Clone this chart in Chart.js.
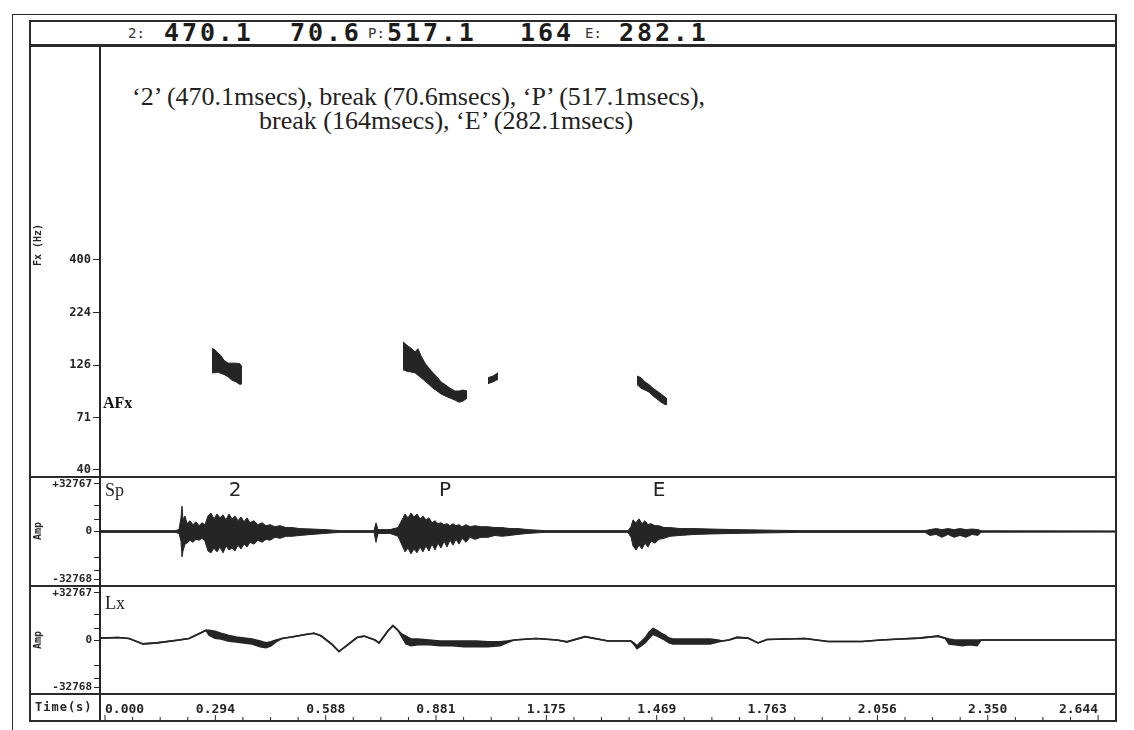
<!DOCTYPE html>
<html>
<head>
<meta charset="utf-8">
<script src="https://cdn.jsdelivr.net/npm/chart.js@4.4.0/dist/chart.umd.min.js"></script>
<style>
  body { margin: 0; background: #fff; }
  #page { position: relative; width: 1134px; height: 730px; overflow: hidden; background: #fff; }
  canvas { position: absolute; }
  .ln { position: absolute; background: #2b2b2b; z-index: 5; }
  .hdr { position: absolute; top: 20px; font-family: 'DejaVu Sans Mono', monospace; font-weight: bold;
         font-size: 25px; letter-spacing: 2.9px; line-height: 26px; color: #1c1c1c; white-space: nowrap; }
  .hdr.small { font-size: 14px; font-weight: normal; letter-spacing: 0; top: 25px; line-height: 16px; color: #333; }
  .note { position: absolute; font-family: 'Liberation Serif', serif; font-size: 26px; line-height: 28px;
          color: #222; white-space: nowrap; }
</style>
</head>
<body>
<div id="page">
  <!-- frame -->
  <div class="ln" style="left:12px;top:14px;width:1px;height:716px"></div>
  <div class="ln" style="left:12px;top:14px;width:1105px;height:1px"></div>
  <div class="ln" style="left:29px;top:20px;width:1.5px;height:701px"></div>
  <div class="ln" style="left:29px;top:20px;width:1088px;height:1.5px"></div>
  <div class="ln" style="left:1115px;top:14px;width:1.5px;height:707px"></div>
  <div class="ln" style="left:29px;top:44px;width:1088px;height:2.5px"></div>
  <div class="ln" style="left:29px;top:476px;width:1088px;height:2px"></div>
  <div class="ln" style="left:29px;top:585px;width:1088px;height:2px"></div>
  <div class="ln" style="left:29px;top:693px;width:1088px;height:2px"></div>
  <div class="ln" style="left:29px;top:720px;width:1088px;height:1.5px"></div>
  <div class="ln" style="left:99px;top:693px;width:2px;height:28px"></div>

  <!-- header durations -->
  <div class="hdr small" style="left:128px">2:</div>
  <div class="hdr" style="left:164px">470.1</div>
  <div class="hdr" style="left:290px">70.6</div>
  <div class="hdr small" style="left:368px">P:</div>
  <div class="hdr" style="left:387px">517.1</div>
  <div class="hdr" style="left:520px">164</div>
  <div class="hdr small" style="left:585px">E:</div>
  <div class="hdr" style="left:619px">282.1</div>

  <div class="note" style="left:132px;top:83px">‘2’ (470.1msecs), break (70.6msecs), ‘P’ (517.1msecs),</div>
  <div class="note" style="left:259px;top:107px">break (164msecs), ‘E’ (282.1msecs)</div>

  <canvas id="fx" width="1085" height="431" style="left:30px;top:46px"></canvas>
  <canvas id="sp" width="1085" height="109" style="left:30px;top:477px"></canvas>
  <canvas id="lx" width="1085" height="135" style="left:30px;top:586px"></canvas>
</div>
<script>
// time axis (seconds)
const timeTicks = [0, 0.294, 0.588, 0.881, 1.175, 1.469, 1.763, 2.056, 2.350, 2.644];
const timeLabels = ['0.000', '0.294', '0.588', '0.881', '1.175', '1.469', '1.763', '2.056', '2.350', '2.644'];
const fxTicks = [40, 71, 126, 224, 400];
const ampTicks = [-32768, -27000, -18000, 0, 8000, 18000, 32767];

// Fx contour pieces: [time s, upper Hz, lower Hz]
const fxSeg2 = [
  [0.2849, 152, 116], [0.2929, 149, 116], [0.3009, 144, 117], [0.3088, 140, 115], [0.3168, 133, 114],
  [0.3275, 129, 111], [0.3381, 129, 107], [0.3488, 129, 105], [0.3594, 128, 102], [0.3647, 124, 103]
];
const fxSegP = [
  [0.7934, 163, 120], [0.8040, 157, 118], [0.8147, 152, 117], [0.8253, 146, 116], [0.8333, 151, 113],
  [0.8413, 140, 110], [0.8520, 129, 106], [0.8626, 122, 102], [0.8733, 116, 98], [0.8839, 111, 95],
  [0.8946, 105, 92], [0.9052, 102, 90], [0.9185, 98, 88], [0.9318, 95, 86], [0.9425, 95, 84],
  [0.9531, 96, 85], [0.9638, 95, 88]
];
const fxSegBlip = [[1.0197, 110, 103], [1.0330, 112, 105], [1.0463, 116, 108]];
const fxSegE = [
  [1.4164, 112, 102], [1.4271, 110, 98], [1.4377, 105, 96], [1.4483, 102, 94], [1.4590, 98, 90],
  [1.4696, 95, 87], [1.4803, 92, 84], [1.4909, 89, 82], [1.4963, 87, 82]
];

// speech waveform envelope
const spTime = [
  -0.0133, 0.1864, 0.1970, 0.2023, 0.2050, 0.2077, 0.2130, 0.2183, 0.2263, 0.2343,
  0.2423, 0.2503, 0.2583, 0.2662, 0.2742, 0.2822, 0.2902, 0.2982, 0.3062, 0.3142,
  0.3222, 0.3301, 0.3381, 0.3461, 0.3541, 0.3621, 0.3701, 0.3781, 0.3861, 0.3967,
  0.4073, 0.4180, 0.4286, 0.4393, 0.4526, 0.4659, 0.4819, 0.4979, 0.5192, 0.5511,
  0.5857, 0.6257,
  0.7162, 0.7215, 0.7268, 0.7588, 0.7801, 0.7907, 0.7987, 0.8067, 0.8147, 0.8227,
  0.8307, 0.8387, 0.8466, 0.8546, 0.8626, 0.8706, 0.8786, 0.8866, 0.8946, 0.9026,
  0.9105, 0.9185, 0.9265, 0.9345, 0.9425, 0.9505, 0.9611, 0.9718, 0.9851, 1.0011,
  1.0197, 1.0383, 1.0570, 1.0783, 1.0996, 1.1262, 1.1715,
  1.3924, 1.4004, 1.4058, 1.4137, 1.4217, 1.4297, 1.4377, 1.4457, 1.4537, 1.4643,
  1.4750, 1.4883, 1.5043, 1.5309, 1.5708, 1.6108, 1.6773, 1.8504,
  2.1832, 2.1965, 2.2125, 2.2284, 2.2444, 2.2604, 2.2764, 2.2923, 2.3083, 2.3243,
  2.3323, 2.6890
];
const spUpper = [
  600, 600, 1300, 9400, 17400, 8000, 10700, 5400, 7400, 4700,
  6700, 4000, 6000, 4700, 10700, 12700, 8700, 12000, 9400, 11400,
  8000, 12000, 8700, 10700, 7400, 10000, 6700, 9400, 6000, 7400,
  4700, 6000, 4000, 4700, 3300, 4000, 2700, 2700, 2000, 1700,
  1300, 600,
  600, 6000, 1300, 1300, 2700, 8000, 12000, 9400, 12700, 10000,
  12000, 8700, 10700, 8000, 9400, 6000, 7400, 5400, 6000, 4700,
  5400, 4000, 5400, 4000, 4700, 3300, 4700, 3300, 4000, 3300,
  3300, 2700, 2700, 2000, 2000, 1300, 600,
  600, 3300, 8000, 6000, 8700, 5400, 7400, 4700, 5400, 4000,
  4000, 2700, 2700, 2000, 2000, 1700, 1300, 600,
  600, 1300, 2000, 1300, 2000, 1300, 2000, 1300, 1700, 1300,
  500, 400
];
const spLower = [
  -600, -600, -1300, -6700, -17400, -13400, -8700, -8000, -6000, -7400,
  -5400, -6000, -4700, -6700, -13400, -14700, -11400, -14000, -10700, -14700,
  -10000, -12700, -11400, -13400, -9400, -12000, -8700, -10700, -7400, -8700,
  -6000, -7400, -5400, -6000, -4000, -4700, -3300, -3300, -2700, -2000,
  -1300, -600,
  -600, -7400, -1300, -1300, -3300, -9400, -14000, -11400, -15400, -12000,
  -14700, -10700, -14000, -10000, -13400, -8700, -12700, -8000, -11400, -6700,
  -10700, -6000, -9400, -5400, -8700, -4700, -7400, -4000, -5400, -4000,
  -4000, -2700, -3300, -2700, -2000, -1300, -600,
  -600, -4000, -10000, -12700, -9400, -12000, -8000, -10700, -6700, -8000,
  -5400, -4700, -3300, -2700, -2000, -1700, -1300, -600,
  -600, -2700, -2000, -4000, -2000, -4000, -2700, -4000, -2000, -2700,
  -500, -400
];

// laryngograph trace (upper / lower edge of the drawn line)
const lxTime = [
  -0.0133, 0.0346, 0.0639, 0.1012, 0.1384, 0.1970, 0.2236, 0.2529, 0.2689, 0.2769,
  0.2929, 0.3088, 0.3275, 0.3488, 0.3701, 0.3914, 0.4127, 0.4286, 0.4420, 0.4553,
  0.4712, 0.5005, 0.5378, 0.5564, 0.5751, 0.6044, 0.6230, 0.6416, 0.6709, 0.6896,
  0.7188, 0.7295, 0.7375, 0.7535, 0.7668, 0.7801, 0.7907, 0.8014, 0.8147, 0.8333,
  0.8626, 0.8919, 0.9239, 0.9558, 0.9878, 1.0197, 1.0517, 1.0703, 1.0889, 1.1475,
  1.2034, 1.2300, 1.2780, 1.3392, 1.4004, 1.4111, 1.4164, 1.4271, 1.4377, 1.4483,
  1.4590, 1.4696, 1.4803, 1.4909, 1.5016, 1.5122, 1.5575, 1.6108, 1.6321, 1.6427,
  1.6613, 1.6826, 1.7119, 1.7385, 1.7625, 1.8637, 1.9249, 2.0154, 2.0660, 2.1166,
  2.1672, 2.2178, 2.2364, 2.2471, 2.2630, 2.2817, 2.3030, 2.3216, 2.3323, 2.6890
];
const lxHigh = [
  1300, 1700, 1000, -2700, -2000, 0, 1000, 4700, 6700, 6700,
  6000, 4700, 3300, 2000, 1300, 700, -700, -2000, -1300, 0,
  1000, 2300, 4000, 4700, 2900, -3100, -8000, -4300, 1700, 2700,
  0, -2000, 700, 6400, 10000, 6700, 4000, 2700, 700, 700,
  0, -700, -700, -700, -700, -1300, -1300, -700, 0, 1000,
  0, -1300, 2300, -700, -700, -2700, -4000, -1300, 1300, 5400,
  8000, 6700, 4700, 3300, 1300, 700, 700, 700, 0, -700,
  0, 1800, 1300, -2000, 300, 1000, -1000, -1000, 0, 700,
  1300, 2700, 1300, 700, 0, 0, 0, 0, 0, 0
];
const lxLow = [
  1300, 1700, 1000, -2700, -2000, 0, 1000, 4700, 6700, 3300,
  1300, 700, -700, -1300, -2000, -2700, -4700, -5400, -4000, -1300,
  1000, 2300, 4000, 4700, 2900, -3100, -8000, -4300, 1700, 2700,
  0, -2000, 700, 6400, 10000, 6700, 2000, -2700, -4000, -3300,
  -3300, -4000, -4000, -4700, -4700, -4700, -4000, -2000, 0, 1000,
  0, -1300, 2300, -700, -700, -4000, -6000, -4000, -2000, 1300,
  4000, 2700, 1300, 0, -2000, -2700, -2700, -2700, -1300, -700,
  0, 1800, 1300, -2000, 300, 1000, -1000, -1000, 0, 700,
  1300, 2700, 1300, -2700, -3300, -4000, -3300, -4000, 0, 0
];

const INK = '#252525';
const T_MIN = -0.0133;
const T_MAX = 2.689;
const tickFont = { family: 'DejaVu Sans Mono', size: 11, weight: 'bold' };

function band(points, color, width) {
  return [
    { data: points.map(p => ({ x: p[0], y: p[1] })), borderColor: color, backgroundColor: color,
      borderWidth: width, pointRadius: 0, fill: false },
    { data: points.map(p => ({ x: p[0], y: p[2] })), borderColor: color, backgroundColor: color,
      borderWidth: width, pointRadius: 0, fill: '-1' }
  ];
}

function zip(times, hi, lo) {
  return times.map((t, i) => [t, hi[i], lo[i]]);
}

const panelText = {
  id: 'panelText',
  afterDraw(chart, args, opts) {
    const ctx = chart.ctx;
    (opts.items || []).forEach(it => {
      ctx.save();
      ctx.font = it.font;
      ctx.fillStyle = it.color || INK;
      ctx.textAlign = it.align || 'left';
      ctx.textBaseline = 'middle';
      if (it.spacing && 'letterSpacing' in ctx) ctx.letterSpacing = it.spacing;
      ctx.translate(it.x, it.y);
      if (it.rot) ctx.rotate(it.rot);
      ctx.fillText(it.text, 0, 0);
      ctx.restore();
    });
    if (opts.timeMarks) {
      const xs = chart.scales.x;
      const bottom = chart.height - 1;
      ctx.save();
      ctx.strokeStyle = INK;
      ctx.lineWidth = 1;
      for (let i = 0; i <= 36; i++) {
        const px = xs.getPixelForValue(i * 2.644 / 36);
        ctx.beginPath();
        ctx.moveTo(px, bottom);
        ctx.lineTo(px, bottom - (i % 4 === 0 ? 5 : 3));
        ctx.stroke();
      }
      ctx.restore();
    }
  }
};

function timeScale(show) {
  const s = {
    type: 'linear', min: T_MIN, max: T_MAX, bounds: 'data', display: show,
    afterBuildTicks: sc => { sc.ticks = timeTicks.map(v => ({ value: v })); },
    border: { display: false },
    grid: { display: false, drawTicks: false },
    ticks: { autoSkip: false, maxRotation: 0, align: 'inner', padding: 8, color: INK,
             font: { family: 'DejaVu Sans Mono', size: 13, weight: 'bold' },
             callback: (v, i) => timeLabels[i] }
  };
  if (show) s.afterFit = sc => { sc.height = 27; sc.paddingLeft = 0; sc.paddingRight = 0; };
  return s;
}

function fitLeft(sc) {
  sc.width = 70;
  sc.paddingTop = 0;
  sc.paddingBottom = 0;
}

function ampScale() {
  return {
    type: 'linear', min: -37500, max: 37500, bounds: 'data',
    afterFit: fitLeft,
    afterBuildTicks: s => { s.ticks = ampTicks.map(v => ({ value: v })); },
    border: { display: true, color: INK, width: 2 },
    grid: { drawOnChartArea: false, drawTicks: true, tickLength: 6, color: INK },
    ticks: { autoSkip: false, padding: 2, color: INK, font: tickFont,
             callback: v => v === 32767 ? '+32767' : v === -32768 ? '-32768' : v === 0 ? '0' : '' }
  };
}

const common = {
  responsive: false,
  animation: false,
  events: [],
  layout: { padding: 0, autoPadding: false },
  elements: { line: { tension: 0 } }
};

new Chart(document.getElementById('fx'), {
  type: 'line',
  data: { datasets: [...band(fxSeg2, INK, 1), ...band(fxSegP, INK, 1), ...band(fxSegBlip, INK, 1), ...band(fxSegE, INK, 1)] },
  options: {
    ...common,
    scales: {
      x: timeScale(false),
      y: {
        type: 'logarithmic', min: 37, max: 4180, bounds: 'data',
        afterFit: fitLeft,
        afterBuildTicks: s => { s.ticks = fxTicks.map(v => ({ value: v })); },
        border: { display: true, color: INK, width: 2 },
        grid: { drawOnChartArea: false, drawTicks: true, tickLength: 7, color: INK },
        ticks: { autoSkip: false, padding: 2, color: INK, font: { family: 'DejaVu Sans Mono', size: 12, weight: 'bold' },
                 callback: v => String(v) }
      }
    },
    plugins: {
      legend: { display: false }, tooltip: { enabled: false },
      panelText: { items: [
        { text: 'Fx (Hz)', x: 8, y: 199, rot: -Math.PI / 2, align: 'center', font: 'bold 10px "DejaVu Sans Mono"' },
        { text: 'AFx', x: 73, y: 358, font: 'bold 16px "Liberation Serif"', color: '#111' }
      ] }
    }
  },
  plugins: [panelText]
});

new Chart(document.getElementById('sp'), {
  type: 'line',
  data: { datasets: band(zip(spTime, spUpper, spLower), INK, 1) },
  options: {
    ...common,
    scales: { x: timeScale(false), y: ampScale() },
    plugins: {
      legend: { display: false }, tooltip: { enabled: false },
      panelText: { items: [
        { text: 'Amp', x: 8, y: 54, rot: -Math.PI / 2, align: 'center', font: 'bold 10px "DejaVu Sans Mono"' },
        { text: 'Sp', x: 75, y: 14, font: '18px "Liberation Serif"' },
        { text: '2', x: 205, y: 14, align: 'center', font: '20px "DejaVu Sans"' },
        { text: 'P', x: 415, y: 14, align: 'center', font: '20px "DejaVu Sans"' },
        { text: 'E', x: 629, y: 14, align: 'center', font: '20px "DejaVu Sans"' }
      ] }
    }
  },
  plugins: [panelText]
});

new Chart(document.getElementById('lx'), {
  type: 'line',
  data: { datasets: band(zip(lxTime, lxHigh, lxLow), INK, 1.6) },
  options: {
    ...common,
    scales: { x: timeScale(true), y: ampScale() },
    plugins: {
      legend: { display: false }, tooltip: { enabled: false },
      panelText: { timeMarks: true, items: [
        { text: 'Amp', x: 8, y: 54, rot: -Math.PI / 2, align: 'center', font: 'bold 10px "DejaVu Sans Mono"' },
        { text: 'Lx', x: 75, y: 18, font: '18px "Liberation Serif"' },
        { text: 'Time(s)', x: 5, y: 122, font: 'bold 12px "DejaVu Sans Mono"', spacing: '1px' }
      ] }
    }
  },
  plugins: [panelText]
});
</script>
</body>
</html>
